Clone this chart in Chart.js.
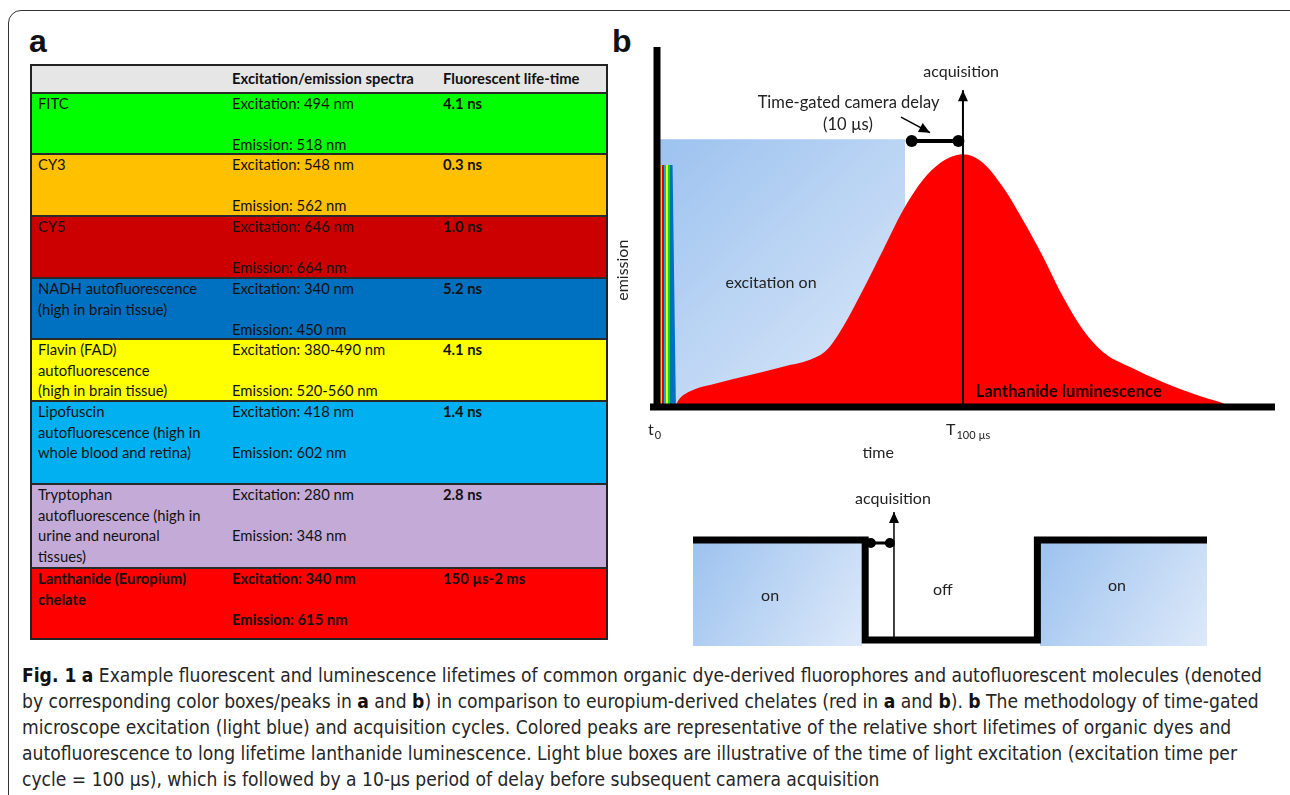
<!DOCTYPE html>
<html>
<head>
<meta charset="utf-8">
<script src="https://cdn.jsdelivr.net/npm/chart.js@4.4.1/dist/chart.umd.min.js"></script>
<style>
  body { margin: 0; background: #fff; width: 1290px; height: 795px; overflow: hidden; position: relative; font-family: Lato, sans-serif; }
  #frame { position: absolute; left: 8px; top: 10px; width: 1400px; height: 900px; border: 1.5px solid #333; border-radius: 13px 0 0 0; }
  .lbl { position: absolute; font: bold 32px "Liberation Sans", Arial, sans-serif; line-height: 32px; color: #111; }
  #tbl { position: absolute; left: 30px; top: 64px; width: 574px; border: 2px solid #222; border-top-width: 2px; }
  .row { position: relative; box-sizing: border-box; border-top: 2px solid #2a2a2a; font-size: 14.8px; line-height: 20.7px; color: #111; }
  .row:first-child { border-top: none; }
  .row div { position: absolute; top: -1px; white-space: nowrap; }
  .b { font-weight: bold; }
  canvas { position: absolute; }
  #caption { position: absolute; left: 22px; top: 662px; font: 20px "DejaVu Sans Condensed", "Liberation Sans Narrow", sans-serif; line-height: 26px; color: #262626; white-space: nowrap; transform-origin: 0 0; }
  #caption b { color: #111; }
  #caption span { display: inline-block; }
</style>
</head>
<body>
<div id="frame"></div>
<div class="lbl" style="left:29px;top:25px;">a</div>
<div class="lbl" style="left:612px;top:25px;">b</div>
<div id="tbl"></div>
<canvas id="upper" width="690" height="460" style="left:600px;top:20px;"></canvas>
<canvas id="lower" width="560" height="180" style="left:680px;top:480px;"></canvas>
<div id="caption">
  <div><span id="cap1"><b>Fig. 1</b> <b>a</b> Example fluorescent and luminescence lifetimes of common organic dye-derived fluorophores and autofluorescent molecules (denoted</span></div>
  <div>by corresponding color boxes/peaks in <b>a</b> and <b>b</b>) in comparison to europium-derived chelates (red in <b>a</b> and <b>b</b>). <b>b</b> The methodology of time-gated</div>
  <div>microscope excitation (light blue) and acquisition cycles. Colored peaks are representative of the relative short lifetimes of organic dyes and</div>
  <div>autofluorescence to long lifetime lanthanide luminescence. Light blue boxes are illustrative of the time of light excitation (excitation time per</div>
  <div>cycle = 100 µs), which is followed by a 10-µs period of delay before subsequent camera acquisition</div>
</div>
<script>
// ---- panel a: table data ----
const headers = ['', 'Excitation/emission spectra', 'Fluorescent life-time'];
const compounds = [
  ['FITC'],
  ['CY3'],
  ['CY5'],
  ['NADH autofluorescence', '(high in brain tissue)'],
  ['Flavin (FAD)', 'autofluorescence', '(high in brain tissue)'],
  ['Lipofuscin', 'autofluorescence (high in', 'whole blood and retina)'],
  ['Tryptophan', 'autofluorescence (high in', 'urine and neuronal', 'tissues)'],
  ['Lanthanide (Europium)', 'chelate']
];
const excitation = ['494 nm', '548 nm', '646 nm', '340 nm', '380-490 nm', '418 nm', '280 nm', '340 nm'];
const emission = ['518 nm', '562 nm', '664 nm', '450 nm', '520-560 nm', '602 nm', '348 nm', '615 nm'];
const lifetimes = ['4.1 ns', '0.3 ns', '1.0 ns', '5.2 ns', '4.1 ns', '1.4 ns', '2.8 ns', '150 µs-2 ms'];
const rowColors = ['#00ff00', '#ffc000', '#cc0000', '#0070c0', '#ffff00', '#00b0f0', '#c4aad6', '#ff0000'];
const rowHeights = [61, 62, 62, 61, 62, 83, 84, 71];

// ---- panel b: emission curves (x in µs-ish units, t0 = 0, T = 100) ----
const lanthX = [5.8, 7.5, 12, 19.6, 30.5, 41.3, 50.2, 55.6, 61.0, 67.5, 74.1, 80.7, 87.2, 92.8, 98.3, 100.3, 106.9, 113.4, 120.0, 126.6, 133.1, 139.7, 146.2, 155.1, 165.9, 177.0, 186.9, 188.5];
const lanthY = [0, 2.4, 4.8, 6.6, 8.9, 11.2, 13.1, 15.8, 22.3, 32.5, 43.6, 54.7, 63.1, 67.8, 70.0, 70.2, 67.8, 61.1, 51.9, 41.7, 30.6, 21.4, 15.3, 11.1, 6.9, 3.3, 0.6, 0];
// short-lived dye / autofluorescence peaks (front to back)
const peakNames = ['CY3', 'CY5', 'Lipofuscin', 'Flavin', 'FITC', 'NADH'];
const peakColors = ['#ffc000', '#e00000', '#00b0f0', '#ffff00', '#00e000', '#0070c0'];
const peakHeight = 67.2;
const peakTopEnd = [1.8, 2.5, 3.1, 3.8, 4.4, 5.1];
const peakBaseEnd = [1.65, 2.3, 2.95, 3.6, 4.25, 6.2];
const excitationEnd = 81.3, excitationLevel = 74.4;
const delayStart = 83.5, delayEnd = 98.8, delayLevel = 73.9;
const acquisitionT = 100.3, acquisitionTop = 88;
const pointerFrom = [80.0, 80.5], pointerTo = [89.5, 76.2];
const tickValues = [0, 100];
const tickLabels = [['t', '0'], ['T', '100 µs']];

// ---- lower cycle diagram ----
const cycleX = [0, 33.5, 33.5, 67.0, 67.0, 100];
const cycleY = [1, 1, 0, 0, 1, 1];
const onBoxes = [[0, 32.9], [67.5, 100]];
const gateDots = [34.6, 38.3], gateLevel = 0.97;
const acqX = 39.1, acqTop = 1.28;

// build table
const tbl = document.getElementById('tbl');
function addRow(bg, h, cells, boldAll) {
  const r = document.createElement('div');
  r.className = 'row';
  r.style.background = bg;
  r.style.height = h + 'px';
  const lefts = [6, 200, 411];
  cells.forEach((c, i) => {
    const d = document.createElement('div');
    d.style.left = lefts[i] + 'px';
    d.innerHTML = c.join('<br>');
    if (boldAll || i === 2) d.className = 'b';
    r.appendChild(d);
  });
  tbl.appendChild(r);
}
(function () {
  const r = document.createElement('div');
  r.className = 'row';
  r.style.background = '#e6e6e6';
  r.style.height = '26px';
  [[200, headers[1]], [411, headers[2]]].forEach(([l, t]) => {
    const d = document.createElement('div');
    d.style.left = l + 'px'; d.style.top = '2px'; d.className = 'b'; d.textContent = t;
    r.appendChild(d);
  });
  tbl.appendChild(r);
})();
compounds.forEach((name, i) => {
  addRow(rowColors[i], rowHeights[i], [
    name,
    ['Excitation: ' + excitation[i], '', 'Emission: ' + emission[i]],
    [lifetimes[i]]
  ], i === compounds.length - 1);
});

// squeeze the caption so the first line spans the same width as in the figure
const cap = document.getElementById('caption');
const capW = document.getElementById('cap1').getBoundingClientRect().width;
cap.style.transform = 'scaleX(' + (1240 / capW) + ')';

const annoFont = '16px Lato, sans-serif';

function drawArrowHead(ctx, from, to, len, half) {
  const a = Math.atan2(to.y - from.y, to.x - from.x);
  ctx.beginPath();
  ctx.moveTo(to.x, to.y);
  ctx.lineTo(to.x - len * Math.cos(a) + half * Math.sin(a), to.y - len * Math.sin(a) - half * Math.cos(a));
  ctx.lineTo(to.x - len * Math.cos(a) - half * Math.sin(a), to.y - len * Math.sin(a) + half * Math.cos(a));
  ctx.closePath();
  ctx.fill();
}

function arrowPlugin(id) {
  return {
    id,
    afterDatasetsDraw(chart) {
      const ctx = chart.ctx;
      ctx.save();
      ctx.fillStyle = '#000';
      chart.data.datasets.forEach((ds, i) => {
        if (!ds.arrow) return;
        const pts = chart.getDatasetMeta(i).data;
        const n = pts.length;
        drawArrowHead(ctx, pts[n - 2], pts[n - 1], 11, 5);
      });
      ctx.restore();
    }
  };
}

function blueGradient(chart, x0, y0, x1, y1) {
  const g = chart.ctx.createLinearGradient(x0, y0, x1, y1);
  g.addColorStop(0, '#9cc2ef');
  g.addColorStop(1, '#dde9f9');
  return g;
}

// ---- upper chart ----
const upperText = {
  id: 'upperText',
  afterDraw(chart) {
    const { ctx, scales: { x, y } } = chart;
    ctx.save();
    // thick axes
    ctx.fillStyle = '#000';
    const x0 = x.getPixelForValue(0), y0 = y.getPixelForValue(0);
    const yTop = y.getPixelForValue(y.max);
    ctx.fillRect(x0 - 3.5, yTop, 7, y0 - yTop + 3);
    ctx.fillRect(x0 - 7, y0 - 3.5, x.getPixelForValue(x.max) - x0 + 7, 7);

    ctx.fillStyle = '#222';
    ctx.font = annoFont;
    ctx.textAlign = 'center';
    ctx.textBaseline = 'middle';
    const put = (t, vx, vy) => ctx.fillText(t, x.getPixelForValue(vx), y.getPixelForValue(vy));
    put('acquisition', 99.7, 93.1);
    ctx.font = '16.5px Lato, sans-serif';
    put('Time-gated camera delay', 62.8, 84.4);
    put('(10 µs)', 62.6, 78.3);
    ctx.font = annoFont;
    put('excitation on', 37.4, 34.4);
    put('time', 72.5, -12.7);
    ctx.font = 'bold 16.6px Lato, sans-serif';
    ctx.fillStyle = '#1a0000';
    put('Lanthanide luminescence', 135, 4.3);
    // rotated y title
    ctx.fillStyle = '#222';
    ctx.font = annoFont;
    ctx.translate(x.getPixelForValue(-11.1), y.getPixelForValue(38));
    ctx.rotate(-Math.PI / 2);
    ctx.fillText('emission', 0, 0);
    ctx.setTransform(1, 0, 0, 1, 0, 0);
    // tick labels with subscripts
    ctx.textAlign = 'left';
    ctx.textBaseline = 'alphabetic';
    tickValues.forEach((v, i) => {
      const px = x.getPixelForValue(v) + (i === 0 ? -9 : -16);
      const py = y.getPixelForValue(0) + 28;
      ctx.font = '16px Lato, sans-serif';
      ctx.fillText(tickLabels[i][0], px, py);
      const w = ctx.measureText(tickLabels[i][0]).width;
      ctx.font = '11px Lato, sans-serif';
      ctx.fillText(tickLabels[i][1], px + w + 1, py + 4);
    });
    ctx.restore();
  }
};

const peakSets = peakNames.map((name, i) => ({
  label: name,
  data: [{ x: 1.0, y: 0 }, { x: 1.0, y: peakHeight }, { x: peakTopEnd[i], y: peakHeight }, { x: peakBaseEnd[i], y: 0 }],
  borderWidth: 0,
  backgroundColor: peakColors[i],
  fill: 'origin',
  showLine: true,
  pointRadius: 0
}));

new Chart(document.getElementById('upper'), {
  type: 'scatter',
  data: {
    datasets: [
      { label: 'acquisition', data: [{ x: acquisitionT, y: 0 }, { x: acquisitionT, y: acquisitionTop }], showLine: true, borderColor: '#000', borderWidth: 2, pointRadius: 0, arrow: true },
      { label: 'pointer', data: [{ x: pointerFrom[0], y: pointerFrom[1] }, { x: pointerTo[0], y: pointerTo[1] }], showLine: true, borderColor: '#000', borderWidth: 1.5, pointRadius: 0, arrow: true },
      { label: 'delay', data: [{ x: delayStart, y: delayLevel }, { x: delayEnd, y: delayLevel }], showLine: true, borderColor: '#000', borderWidth: 4, pointRadius: 6, pointBackgroundColor: '#000', pointBorderWidth: 0 },
      ...peakSets,
      {
        label: 'Lanthanide luminescence',
        data: lanthX.map((v, i) => ({ x: v, y: lanthY[i] })),
        showLine: true, borderWidth: 0, pointRadius: 0, fill: 'origin',
        backgroundColor: '#ff0000', cubicInterpolationMode: 'monotone'
      },
      {
        label: 'excitation on',
        data: [{ x: 0, y: excitationLevel }, { x: excitationEnd, y: excitationLevel }],
        showLine: true, borderWidth: 0, pointRadius: 0, fill: 'origin',
        backgroundColor: (c) => {
          const ch = c.chart;
          if (!ch.chartArea) return '#b8d2f4';
          const { x, y } = ch.scales;
          return blueGradient(ch, x.getPixelForValue(0), y.getPixelForValue(excitationLevel), x.getPixelForValue(excitationEnd), y.getPixelForValue(0));
        }
      }
    ]
  },
  options: {
    responsive: false,
    animation: false,
    events: [],
    layout: { padding: { left: 57, top: 27, right: 15, bottom: 73 } },
    scales: {
      x: { type: 'linear', min: 0, max: 202.6, display: false },
      y: { type: 'linear', min: 0, max: 100, display: false }
    },
    plugins: { legend: { display: false }, tooltip: { enabled: false } }
  },
  plugins: [arrowPlugin('upperArrows'), upperText]
});

// ---- lower chart ----
const lowerText = {
  id: 'lowerText',
  afterDraw(chart) {
    const { ctx, scales: { x, y } } = chart;
    ctx.save();
    ctx.fillStyle = '#222';
    ctx.font = annoFont;
    ctx.textAlign = 'center';
    ctx.textBaseline = 'middle';
    const put = (t, vx, vy) => ctx.fillText(t, x.getPixelForValue(vx), y.getPixelForValue(vy));
    put('acquisition', 38.9, 1.41);
    put('on', 15, 0.44);
    put('off', 48.6, 0.5);
    put('on', 82.5, 0.54);
    ctx.restore();
  }
};

const boxSets = onBoxes.map(([a, b]) => ({
  label: 'on',
  data: [{ x: a, y: 1 }, { x: b, y: 1 }],
  showLine: true, borderWidth: 0, pointRadius: 0, fill: 'start',
  backgroundColor: (c) => {
    const ch = c.chart;
    if (!ch.chartArea) return '#b8d2f4';
    const { x, y } = ch.scales;
    return blueGradient(ch, x.getPixelForValue(a), y.getPixelForValue(1), x.getPixelForValue(b), y.getPixelForValue(y.min));
  }
}));

new Chart(document.getElementById('lower'), {
  type: 'scatter',
  data: {
    datasets: [
      { label: 'acquisition', data: [{ x: acqX, y: 0 }, { x: acqX, y: acqTop }], showLine: true, borderColor: '#000', borderWidth: 1.5, pointRadius: 0, arrow: true },
      { label: 'delay', data: gateDots.map(v => ({ x: v, y: gateLevel })), showLine: true, borderColor: '#000', borderWidth: 3, pointRadius: 5, pointBackgroundColor: '#000', pointBorderWidth: 0 },
      { label: 'cycle', data: cycleX.map((v, i) => ({ x: v, y: cycleY[i] })), showLine: true, borderColor: '#000', borderWidth: 7, pointRadius: 0, borderJoinStyle: 'miter', borderCapStyle: 'butt' },
      ...boxSets
    ]
  },
  options: {
    responsive: false,
    animation: false,
    events: [],
    layout: { padding: { left: 13, top: 15, right: 33, bottom: 14 } },
    scales: {
      x: { type: 'linear', min: 0, max: 100, display: false },
      y: { type: 'linear', min: -0.06, max: 1.45, display: false }
    },
    plugins: { legend: { display: false }, tooltip: { enabled: false } }
  },
  plugins: [arrowPlugin('lowerArrows'), lowerText]
});
</script>
</body>
</html>
